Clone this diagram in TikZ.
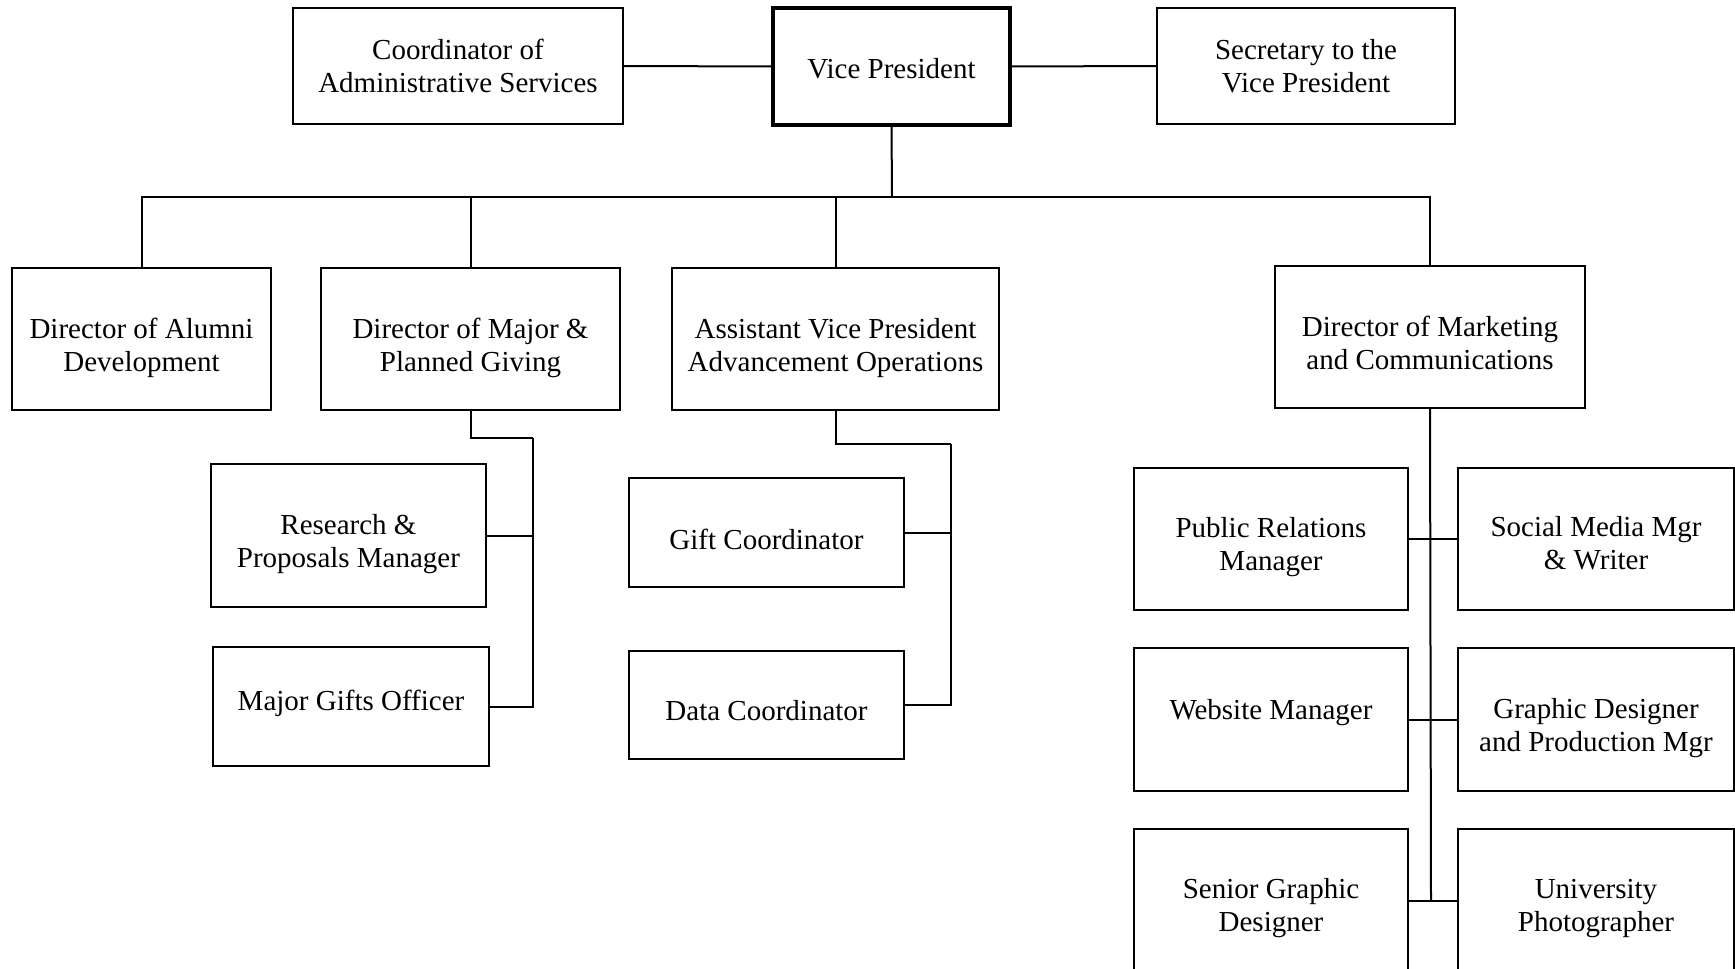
\documentclass[tikz,border=0pt]{standalone}
\usepackage{fontspec}
\setmainfont{Liberation Serif}
\begin{document}
\begin{tikzpicture}[x=1pt,y=-1pt,
  box/.style={draw=black,line width=2.2pt,rectangle,inner sep=0pt,outer sep=0pt,fill=white},
  vpbox/.style={box,line width=4pt},
  lbl/.style={align=center,inner sep=0pt,font=\fontsize{29}{33}\selectfont},
  conn/.style={draw=black,line width=2pt}]
\clip (0,0) rectangle (1735,969);
\fill[white] (0,0) rectangle (1735,969);
% boxes
\node[box,minimum width=330pt,minimum height=116pt] (coord) at (458,66) {};
\node[vpbox,minimum width=237pt,minimum height=117pt] (vp) at (891.5,66.5) {};
\node[box,minimum width=298pt,minimum height=116pt] (sec) at (1306,66) {};
\node[box,minimum width=259pt,minimum height=142pt] (alumni) at (141.5,339) {};
\node[box,minimum width=299pt,minimum height=142pt] (major) at (470.5,339) {};
\node[box,minimum width=327pt,minimum height=142pt] (avp) at (835.5,339) {};
\node[box,minimum width=310pt,minimum height=142pt] (mkt) at (1430,337) {};
\node[box,minimum width=275pt,minimum height=143pt] (research) at (348.5,535.5) {};
\node[box,minimum width=276pt,minimum height=119pt] (mgo) at (351,706.5) {};
\node[box,minimum width=275pt,minimum height=109pt] (gift) at (766.5,532.5) {};
\node[box,minimum width=275pt,minimum height=108pt] (data) at (766.5,705) {};
\node[box,minimum width=274pt,minimum height=142pt] (pr) at (1271,539) {};
\node[box,minimum width=276pt,minimum height=142pt] (smm) at (1596,539) {};
\node[box,minimum width=274pt,minimum height=143pt] (web) at (1271,719.5) {};
\node[box,minimum width=276pt,minimum height=143pt] (gd) at (1596,719.5) {};
\node[box,minimum width=274pt,minimum height=143pt] (sgd) at (1271,900.5) {};
\node[box,minimum width=276pt,minimum height=143pt] (up) at (1596,900.5) {};
% texts
\node[lbl] (coordT) at (coord.center) {Coordinator of\\Administrative Services};
\node[lbl] (vpT) at ([yshift=-2pt]vp.center) {Vice President};
\node[lbl] (secT) at (sec.center) {Secretary to the\\Vice President};
\node[lbl] (alumniT) at ([yshift=-9pt]alumni.center) {Director of Alumni\\Development};
\node[lbl] (majorT) at ([yshift=-9pt]major.center) {Director of Major \&\\Planned Giving};
\node[lbl] (avpT) at ([yshift=-9pt]avp.center) {Assistant Vice President\\Advancement Operations};
\node[lbl] (mktT) at ([yshift=-5.5pt]mkt.center) {Director of Marketing\\and Communications};
\node[lbl] (researchT) at ([yshift=-9pt]research.center) {Research \&\\Proposals Manager};
\node[lbl] (mgoT) at ([yshift=3pt]mgo.center) {Major Gifts Officer};
\node[lbl] (giftT) at ([yshift=-6.5pt]gift.center) {Gift Coordinator};
\node[lbl] (dataT) at ([yshift=-5.5pt]data.center) {Data Coordinator};
\node[lbl] (prT) at ([yshift=-8pt]pr.center) {Public Relations\\Manager};
\node[lbl] (smmT) at ([yshift=-4.5pt]smm.center) {Social Media Mgr\\\& Writer};
\node[lbl] (webT) at ([yshift=7pt]web.center) {Website Manager};
\node[lbl] (gdT) at ([yshift=-9pt]gd.center) {Graphic Designer\\and Production Mgr};
\node[lbl] (sgdT) at ([yshift=-8pt]sgd.center) {Senior Graphic\\Designer};
\node[lbl] (upT) at ([yshift=-8pt]up.center) {University\\Photographer};
% connectors
\coordinate (bus) at (892,197);
\coordinate (mj) at (533,438);
\coordinate (av) at (951,444);
\coordinate (mk) at (1431,900);
\draw[conn] (coord.east) -- (vp.west);
\draw[conn] (vp.east) -- (sec.west);
\draw[conn] (vp.south) -- (bus);
\draw[conn] (alumni.north) |- (bus);
\draw[conn] (major.north) |- (bus);
\draw[conn] (avp.north) |- (bus);
\draw[conn] (mkt.north) |- (bus);
\draw[conn] (major.south) |- (mj);
\draw[conn] (mj) |- (research.east);
\draw[conn] (mj) |- (mgo.east);
\draw[conn] (avp.south) |- (av);
\draw[conn] (av) |- (gift.east);
\draw[conn] (av) |- (data.east);
\draw[conn] (mkt.south) -- (mk);
\draw[conn] (pr.east) -- (smm.west);
\draw[conn] (web.east) -- (gd.west);
\draw[conn] (sgd.east) -- (up.west);
\end{tikzpicture}
\end{document}
